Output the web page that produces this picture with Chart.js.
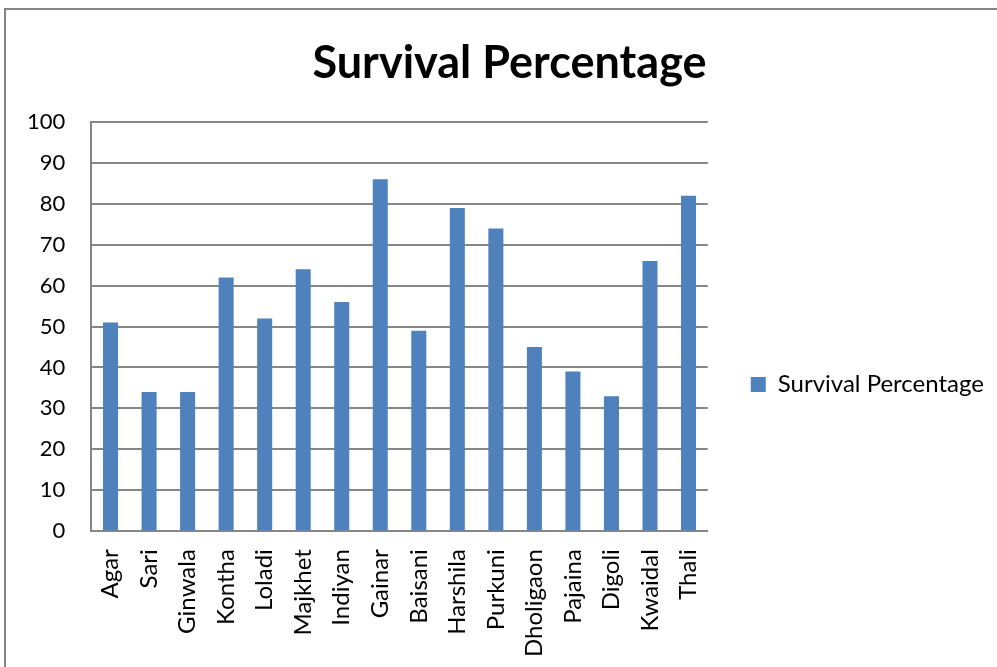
<!DOCTYPE html>
<html>
<head>
<meta charset="utf-8">
<script src="https://cdn.jsdelivr.net/npm/chart.js@4.4.0/dist/chart.umd.min.js"></script>
<style>
  html, body { margin: 0; padding: 0; background: #fff; }
  #wrap { width: 997px; height: 667px; }
</style>
</head>
<body>
<div id="wrap"><canvas id="survival-chart" width="997" height="667"></canvas></div>
<script>
// sites and survival %
const sites = ["Agar","Sari","Ginwala","Kontha","Loladi","Majkhet","Indiyan","Gainar","Baisani","Harshila","Purkuni","Dholigaon","Pajaina","Digoli","Kwaidal","Thali"];
const survival = [51,34,34,62,52,64,56,86,49,79,74,45,39,33,66,82];
const yTicks = [0,10,20,30,40,50,60,70,80,90,100];

const FONT = "Lato, 'Open Sans', sans-serif";

// outer chart frame (only top and left edges fall inside the window)
const frame = {
  id: 'frame',
  beforeDraw(chart) {
    const ctx = chart.ctx;
    ctx.save();
    ctx.strokeStyle = '#868686';
    ctx.lineWidth = 2;
    ctx.strokeRect(5, 9, 1200, 900);
    ctx.restore();
  },
  // the original centres its title a little right of the canvas middle
  afterLayout(chart) {
    if (chart.titleBlock) chart.titleBlock.left += 24;
  }
};

new Chart(document.getElementById("survival-chart"), {
  type: 'bar',
  data: {
    labels: sites,
    datasets: [{
      label: "Survival Percentage",
      data: survival,
      backgroundColor: "#4F81BD",
      borderWidth: 0,
      categoryPercentage: 1.0,
      barPercentage: 0.39
    }]
  },
  options: {
    responsive: false,
    animation: false,
    layout: { padding: { left: 1, right: 3, top: 0, bottom: 0 } },
    plugins: {
      title: {
        display: true,
        text: 'Survival Percentage',
        color: '#000',
        font: { family: FONT, size: 45, weight: 'bold' },
        padding: { top: 36, bottom: 32 }
      },
      legend: {
        display: true,
        position: 'right',
        maxWidth: 340,
        title: {
          // blank title, only used to push the entry down to where it sits in the original
          display: true,
          text: ' ',
          font: { size: 10 },
          padding: { top: 90, bottom: 0 }
        },
        labels: {
          color: '#000',
          font: { family: FONT, size: 24 },
          boxWidth: 15,
          boxHeight: 15,
          padding: 43
        }
      },
      tooltip: { enabled: false }
    },
    scales: {
      x: {
        grid: { display: false },
        border: { display: true, color: '#868686', width: 2 },
        ticks: {
          color: '#000',
          font: { family: FONT, size: 24 },
          minRotation: 90,
          maxRotation: 90,
          autoSkip: false,
          padding: 10
        }
      },
      y: {
        min: 0,
        max: 100,
        afterBuildTicks(axis) { axis.ticks = yTicks.map(v => ({ value: v })); },
        grid: { color: '#868686', lineWidth: 2, drawTicks: false },
        border: { display: true, color: '#868686', width: 2 },
        ticks: {
          color: '#000',
          font: { family: FONT, size: 22 },
          padding: 26
        }
      }
    }
  },
  plugins: [frame]
});
</script>
</body>
</html>
